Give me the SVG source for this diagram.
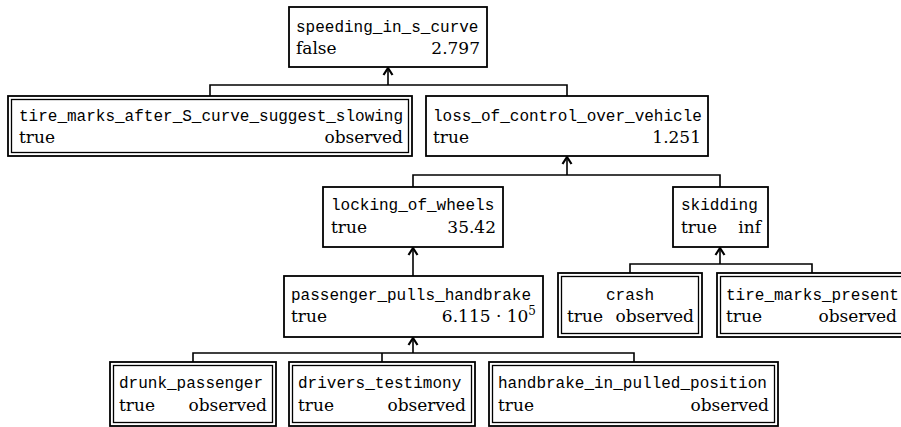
<svg xmlns="http://www.w3.org/2000/svg" width="901" height="427" viewBox="0 0 901 427">
<defs>
<style>
.b{fill:#fff;stroke:#000;stroke-width:1.8}
.i{fill:none;stroke:#000;stroke-width:1.3}
.n{font-family:"Liberation Mono","DejaVu Sans Mono",monospace;font-size:16px;fill:#000}
.v{font-family:"DejaVu Serif","Liberation Serif",serif;font-size:17px;fill:#000}
.e{text-anchor:end}
.m{text-anchor:middle}
.c{fill:none;stroke:#000;stroke-width:1.6}
.a{fill:none;stroke:#000;stroke-width:2.2}
</style>
</defs>
<g id="connectors">
<path class="c" d="M388,85 V68"/>
<path class="c" d="M210,96 V85 H567 V96"/>
<path class="c" d="M567,175 V157"/>
<path class="c" d="M413,187 V175 H720 V187"/>
<path class="c" d="M413,276 V248"/>
<path class="c" d="M720,264 V248"/>
<path class="c" d="M630,273 V264 H812 V273"/>
<path class="c" d="M413,353 V338"/>
<path class="c" d="M193,362 V353 H634 V362"/>
<path class="c" d="M382,353 V362"/>
<path class="a" d="M383.5,75 L388,68 L392.5,75"/>
<path class="a" d="M562.5,164 L567,157 L571.5,164"/>
<path class="a" d="M408.5,255 L413,248 L417.5,255"/>
<path class="a" d="M715.5,255 L720,248 L724.5,255"/>
<path class="a" d="M408.5,345 L413,338 L417.5,345"/>
</g>
<g id="speeding_in_s_curve">
<rect class="b" x="289" y="7" width="198" height="60"/>
<text class="n" x="296" y="32">speeding_in_s_curve</text>
<text class="v" x="296" y="54">false</text>
<text class="v e" x="480" y="54">2.797</text>
</g>
<g id="tire_marks_after_S_curve_suggest_slowing">
<rect class="b" x="8" y="96" width="404" height="60"/>
<rect class="i" x="11.5" y="99.5" width="397" height="53"/>
<text class="n" x="19" y="121">tire_marks_after_S_curve_suggest_slowing</text>
<text class="v" x="19" y="143">true</text>
<text class="v e" x="403" y="143">observed</text>
</g>
<g id="loss_of_control_over_vehicle">
<rect class="b" x="426" y="96" width="282" height="60"/>
<text class="n" x="433" y="121">loss_of_control_over_vehicle</text>
<text class="v" x="433" y="143">true</text>
<text class="v e" x="701" y="143">1.251</text>
</g>
<g id="locking_of_wheels">
<rect class="b" x="323" y="187" width="180" height="60"/>
<text class="n" x="331" y="210">locking_of_wheels</text>
<text class="v" x="331" y="233">true</text>
<text class="v e" x="496" y="233">35.42</text>
</g>
<g id="skidding">
<rect class="b" x="673" y="187" width="95" height="60"/>
<text class="n" x="681" y="210">skidding</text>
<text class="v" x="681" y="233">true</text>
<text class="v e" x="761" y="233">inf</text>
</g>
<g id="passenger_pulls_handbrake">
<rect class="b" x="284" y="276" width="259" height="61"/>
<text class="n" x="291" y="300">passenger_pulls_handbrake</text>
<text class="v" x="291" y="322">true</text>
<text class="v e" x="536" y="322">6.115 · 10<tspan font-size="12" dy="-7">5</tspan></text>
</g>
<g id="crash">
<rect class="b" x="558" y="273" width="144" height="64"/>
<rect class="i" x="561.5" y="276.5" width="137" height="57"/>
<text class="n m" x="630" y="300">crash</text>
<text class="v" x="567" y="322">true</text>
<text class="v e" x="694" y="322">observed</text>
</g>
<g id="tire_marks_present">
<rect class="b" x="717" y="273" width="192" height="64"/>
<rect class="i" x="720.5" y="276.5" width="185" height="57"/>
<text class="n" x="726" y="300">tire_marks_present</text>
<text class="v" x="726" y="322">true</text>
<text class="v e" x="897" y="322">observed</text>
</g>
<g id="drunk_passenger">
<rect class="b" x="110" y="362" width="166" height="64"/>
<rect class="i" x="113.5" y="365.5" width="159" height="57"/>
<text class="n" x="119" y="388">drunk_passenger</text>
<text class="v" x="119" y="411">true</text>
<text class="v e" x="267" y="411">observed</text>
</g>
<g id="drivers_testimony">
<rect class="b" x="289" y="362" width="186" height="64"/>
<rect class="i" x="292.5" y="365.5" width="179" height="57"/>
<text class="n" x="298" y="388">drivers_testimony</text>
<text class="v" x="298" y="411">true</text>
<text class="v e" x="466" y="411">observed</text>
</g>
<g id="handbrake_in_pulled_position">
<rect class="b" x="489" y="362" width="289" height="64"/>
<rect class="i" x="492.5" y="365.5" width="282" height="57"/>
<text class="n" x="498" y="388">handbrake_in_pulled_position</text>
<text class="v" x="498" y="411">true</text>
<text class="v e" x="769" y="411">observed</text>
</g>
</svg>
